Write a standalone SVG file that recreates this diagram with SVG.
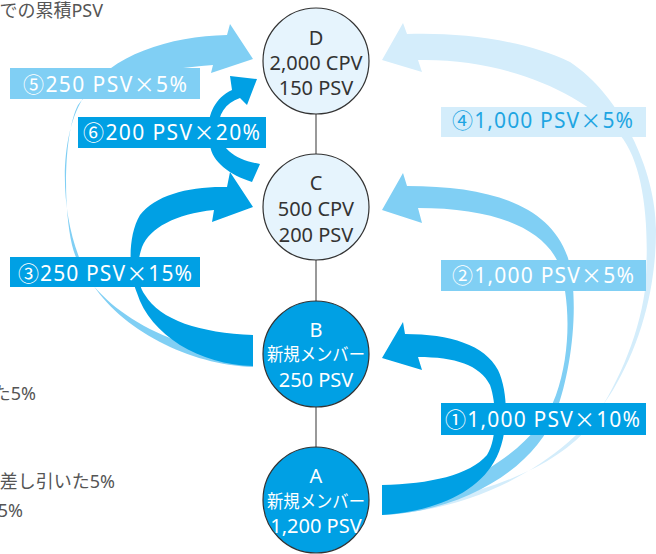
<svg xmlns="http://www.w3.org/2000/svg" width="656" height="554" viewBox="0 0 656 554">
<style>
.t{font-family:"Noto Sans","Noto Sans CJK JP",sans-serif}
.x{font-family:"Noto Sans CJK JP",sans-serif}
.dk{fill:#00a0e4}.lt{fill:#80cff4}.vl{fill:#d4edfb}
.lbl{font-size:21px;fill:#fff}
.nd{stroke:#333;stroke-width:1.2}
.ndl{fill:#e6f4fd}.ndd{fill:#00a0e4}
.nt{font-size:20px;text-anchor:middle}
.jp{font-size:18px}
.side{font-size:18px;fill:#555;text-anchor:end}
.cn{stroke:#555;stroke-width:1.2}
</style>
<g id="side-text" class="t">
<text class="side" x="103" y="17">での累積PSV</text>
<text class="side" x="36" y="400">た5%</text>
<text class="side" x="115" y="488">差し引いた5%</text>
<text class="side" x="23" y="517">5%</text>
</g>
<g id="connectors">
<line class="cn" x1="316" y1="114" x2="316" y2="154"/>
<line class="cn" x1="316" y1="260" x2="316" y2="301"/>
<line class="cn" x1="316" y1="407" x2="316" y2="447"/>
</g>
<g id="arrows">
<path id="arrow4" class="vl" d="M382,515 C480,510 570,460 613,390 C640,345 656,290 656,230 C656,170 620,95 570,62 C525,40 460,32 407,34 L403,23 L382,60 L422,72 L418,60 C500,58 580,90 620,135 C645,165 650,230 645,290 C638,340 615,390 590,425 C560,465 480,500 382,508 Z"/>
<path id="arrow2" class="lt" d="M382,515 C460,512 535,470 556,412 C572,370 580,300 568,258 C550,205 490,186 407,186 L403,173 L382,210 L422,223 L418,208 C488,208 540,225 558,262 C570,295 572,350 556,395 C540,440 480,490 382,505 Z"/>
<path id="arrow1" class="dk" d="M382,485 C430,484 470,475 487,455 C497,440 497,405 490,385 C480,365 455,357 418,357 L422,370 L382,358 L403,322 L405,334 C450,334 485,345 498,370 C510,395 508,440 494,462 C475,495 430,512 382,515 Z"/>
<path id="arrow5" class="lt" d="M253,367 C190,365 120,330 90,280 C60,230 55,140 85,95 C110,55 170,36 227,35 L230,24 L253,59 L211,73 L213,65 C150,70 95,80 78,105 C65,130 62,200 72,245 C85,300 160,350 253,357 Z"/>
<path id="arrow3" class="dk" d="M253,335 C200,333 160,320 145,295 C135,280 137,262 142,247 C150,228 175,214 214,210 L212,222 L253,207 L230,172 L227,187 C190,186 155,195 140,215 C128,235 128,270 137,293 C150,335 200,365 253,366 Z"/>
<path id="arrow6" class="dk" d="M252,182 C230,175 212,162 210,145 C205,125 210,100 232,90 L230,76 L257,79 L247,105 L240,98 C225,103 218,115 218,130 C220,148 235,160 260,164 Z"/>
</g>
<g id="labels" class="t">
<g id="label5"><rect class="lt" x="10" y="68" width="190" height="31"/><text class="lbl" x="23" y="92" textLength="164">⑤250 PSV<tspan class="x">×</tspan>5%</text></g>
<g id="label6"><rect class="dk" x="78" y="117" width="188" height="31"/><text class="lbl" x="83" y="140" textLength="177">⑥200 PSV<tspan class="x">×</tspan>20%</text></g>
<g id="label3"><rect class="dk" x="10" y="257" width="190" height="30"/><text class="lbl" x="18" y="281" textLength="174">③250 PSV<tspan class="x">×</tspan>15%</text></g>
<g id="label4"><rect class="vl" x="441" y="107" width="205" height="30"/><text class="lbl" x="452" y="128" textLength="181" style="fill:#1ea5e2">④1,000 PSV<tspan class="x">×</tspan>5%</text></g>
<g id="label2"><rect class="lt" x="441" y="260" width="205" height="31"/><text class="lbl" x="452" y="283" textLength="182">②1,000 PSV<tspan class="x">×</tspan>5%</text></g>
<g id="label1"><rect class="dk" x="441" y="403" width="205" height="32"/><text class="lbl" x="445" y="427" textLength="195">①1,000 PSV<tspan class="x">×</tspan>10%</text></g>
</g>
<g id="nodeD" class="t"><circle class="nd ndl" cx="316" cy="61" r="53"/><text class="nt" fill="#333" x="316" y="45">D</text><text class="nt" fill="#333" x="316" y="70">2,000 CPV</text><text class="nt" fill="#333" x="316" y="95">150 PSV</text></g>
<g id="nodeC" class="t"><circle class="nd ndl" cx="316" cy="207" r="53"/><text class="nt" fill="#333" x="316" y="190">C</text><text class="nt" fill="#333" x="316" y="216">500 CPV</text><text class="nt" fill="#333" x="316" y="242">200 PSV</text></g>
<g id="nodeB" class="t"><circle class="nd ndd" cx="316" cy="354" r="53"/><text class="nt" fill="#fff" x="316" y="337">B</text><text class="nt jp" fill="#fff" x="316" y="361" textLength="98" lengthAdjust="spacingAndGlyphs">新規メンバー</text><text class="nt" fill="#fff" x="316" y="387">250 PSV</text></g>
<g id="nodeA" class="t"><circle class="nd ndd" cx="316" cy="500" r="53"/><text class="nt" fill="#fff" x="316" y="483">A</text><text class="nt jp" fill="#fff" x="316" y="508" textLength="98" lengthAdjust="spacingAndGlyphs">新規メンバー</text><text class="nt" fill="#fff" x="316" y="533">1,200 PSV</text></g>
</svg>
